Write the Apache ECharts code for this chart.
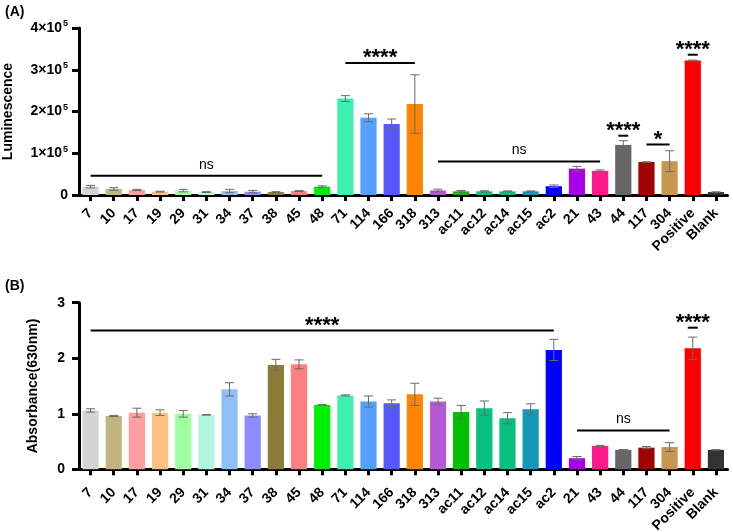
<!DOCTYPE html>
<html>
<head>
<meta charset="utf-8">
<script src="https://cdn.jsdelivr.net/npm/echarts@6/dist/echarts.min.js"></script>
<style>
  html, body { margin: 0; padding: 0; background: #fff; }
  #chart { width: 733px; height: 532px; }
</style>
</head>
<body>
<div id="chart"></div>
<script>
// ---------------- data ----------------
const categories = ['7', '10', '17', '19', '29', '31', '34', '37', '38', '45', '48', '71', '114', '166', '318',
    '313', 'ac11', 'ac12', 'ac14', 'ac15', 'ac2', '21', '43', '44', '117', '304', 'Positive', 'Blank'];

const barColors = ['#d4d4d4', '#c0b57e', '#ff9f9f', '#ffc080', '#a0ffa0', '#b4f5df', '#90c0f8', '#8c8cff',
    '#8c7c3a', '#ff8080', '#00ee00', '#40eeb0', '#55a0ff', '#5858f8', '#ff8400', '#b45ad6', '#00c000',
    '#08c080', '#08c07c', '#1098b4', '#0000ff', '#a800e8', '#ff1a8c', '#666666', '#a00000', '#c8964f',
    '#ff0000', '#333333'];

// (A) luminescence
const lumValues = [20000, 14500, 12000, 8000, 10500, 7000, 9500, 8000, 7000, 9500, 20000, 231000, 185000,
    170000, 218000, 11000, 8800, 8800, 8800, 8800, 21000, 63000, 58000, 120000, 79000, 81000, 322000, 7000];
const lumErrors = [3000, 3000, 1500, 1000, 3000, 1000, 4000, 3000, 1000, 1000, 2000, 7000, 9500, 12000,
    70000, 3000, 2000, 1500, 1000, 1000, 3000, 5500, 2000, 10000, 500, 25000, 1000, 500];
const lumTicks = [0, 100000, 200000, 300000, 400000];

// (B) absorbance
const absValues = [1.06, 0.96, 1.02, 1.02, 1.00, 0.98, 1.44, 0.97, 1.88, 1.89, 1.16, 1.33, 1.22, 1.19,
    1.35, 1.22, 1.03, 1.10, 0.92, 1.08, 2.15, 0.20, 0.42, 0.35, 0.39, 0.40, 2.18, 0.35];
const absErrors = [0.03, 0.01, 0.08, 0.05, 0.06, 0.005, 0.12, 0.03, 0.10, 0.08, 0.005, 0.01, 0.10, 0.06,
    0.20, 0.06, 0.12, 0.13, 0.10, 0.10, 0.19, 0.03, 0.01, 0.005, 0.02, 0.08, 0.20, 0.005];
const absTicks = [0, 1, 2, 3];

// significance brackets: from category, to category, height, text
const lumSig = [
    ['7', '48', 46000, 'ns'],
    ['71', '318', 316000, '****'],
    ['313', '43', 80000, 'ns'],
    ['44', '44', 142000, '****'],
    ['117', '304', 121000, '*'],
    ['Positive', 'Positive', 336000, '****']
];
const absSig = [
    ['7', 'ac2', 2.5, '****'],
    ['21', '304', 0.7, 'ns'],
    ['Positive', 'Positive', 2.55, '****']
];

// ---------------- helpers ----------------
const FONT = 'Liberation Sans, Arial, sans-serif';

function barData(values) {
    return values.map((v, i) => ({ value: v, itemStyle: { color: barColors[i] } }));
}

// error bars (mean ± SD) drawn via the axes' scales
function errorSeries(idx, values, errors) {
    return {
        type: 'custom',
        xAxisIndex: idx,
        yAxisIndex: idx,
        z: 5,
        data: values.map((v, i) => [i, v - errors[i], v + errors[i]]),
        renderItem: function (params, api) {
            const lo = api.coord([api.value(0), api.value(1)]);
            const hi = api.coord([api.value(0), api.value(2)]);
            const hw = 4.5;
            const style = { stroke: '#6a6a6a', lineWidth: 1 };
            return {
                type: 'group',
                children: [
                    { type: 'line', shape: { x1: lo[0], y1: lo[1], x2: hi[0], y2: hi[1] }, style: style },
                    { type: 'line', shape: { x1: lo[0] - hw, y1: lo[1], x2: lo[0] + hw, y2: lo[1] }, style: style },
                    { type: 'line', shape: { x1: hi[0] - hw, y1: hi[1], x2: hi[0] + hw, y2: hi[1] }, style: style }
                ]
            };
        }
    };
}

// significance lines + labels
function sigSeries(idx, sig) {
    return {
        type: 'custom',
        xAxisIndex: idx,
        yAxisIndex: idx,
        z: 6,
        clip: false,
        data: sig.map(s => [categories.indexOf(s[0]), categories.indexOf(s[1]), s[2]]),
        renderItem: function (params, api) {
            const a = api.coord([api.value(0), api.value(2)]);
            const b = api.coord([api.value(1), api.value(2)]);
            const text = sig[params.dataIndex][3];
            const single = api.value(0) === api.value(1);
            const x1 = single ? a[0] - 5 : a[0];
            const x2 = single ? b[0] + 5 : b[0];
            const stars = text.indexOf('*') >= 0;
            return {
                type: 'group',
                children: [
                    { type: 'line', shape: { x1: x1, y1: a[1], x2: x2, y2: b[1] },
                      style: { stroke: '#000', lineWidth: 2 } },
                    { type: 'text', x: (x1 + x2) / 2, y: a[1] - (stars ? 5 : 11),
                      style: {
                          text: text, align: 'center', verticalAlign: 'middle',
                          font: stars ? 'bold 22px ' + FONT : '14px ' + FONT,
                          fill: '#000'
                      } }
                ]
            };
        }
    };
}

function xAxisCfg(idx, margin) {
    return {
        type: 'category',
        gridIndex: idx,
        data: categories,
        axisLine: { show: true, lineStyle: { color: '#000', width: 3 } },
        axisTick: { show: true, alignWithLabel: true, length: 6, lineStyle: { color: '#000', width: 3 } },
        axisLabel: {
            interval: 0, rotate: 45, margin: margin,
            color: '#000', fontWeight: 'bold', fontSize: 14, fontFamily: FONT
        }
    };
}

function yAxisCfg(idx, name, nameGap, ticks, margin, formatter, rich) {
    return {
        type: 'value',
        gridIndex: idx,
        min: ticks[0], max: ticks[ticks.length - 1], interval: ticks[1] - ticks[0],
        name: name,
        nameLocation: 'middle',
        nameGap: nameGap,
        nameTextStyle: { color: '#000', fontWeight: 'bold', fontSize: 14, fontFamily: FONT },
        splitLine: { show: false },
        axisLine: { show: true, lineStyle: { color: '#000', width: 3 } },
        axisTick: { show: true, length: 7, lineStyle: { color: '#000', width: 3 } },
        axisLabel: {
            color: '#000', fontWeight: 'bold', fontSize: 14, fontFamily: FONT, margin: margin,
            formatter: formatter, rich: rich
        }
    };
}

// ---------------- chart ----------------
const chart = echarts.init(document.getElementById('chart'));

const option = {
    animation: false,
    backgroundColor: '#fff',
    title: [
        { text: '(A)', left: 0, top: 0, textStyle: { fontSize: 14, fontWeight: 'bold', fontFamily: FONT, color: '#000' } },
        { text: '(B)', left: 0, top: 274, textStyle: { fontSize: 14, fontWeight: 'bold', fontFamily: FONT, color: '#000' } }
    ],
    grid: [
        { left: 79, right: 5.5, top: 28, bottom: 337, outerBoundsMode: 'none' },
        { left: 79, right: 5.5, top: 302.7, bottom: 62.7, outerBoundsMode: 'none' }
    ],
    xAxis: [xAxisCfg(0, 16), xAxisCfg(1, 21)],
    yAxis: [
        yAxisCfg(0, 'Luminescence', 64, lumTicks, 11,
            function (v) { return v === 0 ? '0' : '{a|' + (v / 1e5) + '×10}{b|5}'; },
            {
                a: { fontSize: 14, fontWeight: 'bold', fontFamily: FONT, color: '#000' },
                b: { fontSize: 9, fontWeight: 'bold', fontFamily: FONT, color: '#000', padding: [0, 0, 8, 1] }
            }),
        yAxisCfg(1, 'Absorbance(630nm)', 39, absTicks, 14, '{value}')
    ],
    series: [
        { type: 'bar', xAxisIndex: 0, yAxisIndex: 0, barCategoryGap: '30%', data: barData(lumValues) },
        errorSeries(0, lumValues, lumErrors),
        sigSeries(0, lumSig),
        { type: 'bar', xAxisIndex: 1, yAxisIndex: 1, barCategoryGap: '30%', data: barData(absValues) },
        errorSeries(1, absValues, absErrors),
        sigSeries(1, absSig)
    ]
};

chart.setOption(option);
</script>
</body>
</html>
